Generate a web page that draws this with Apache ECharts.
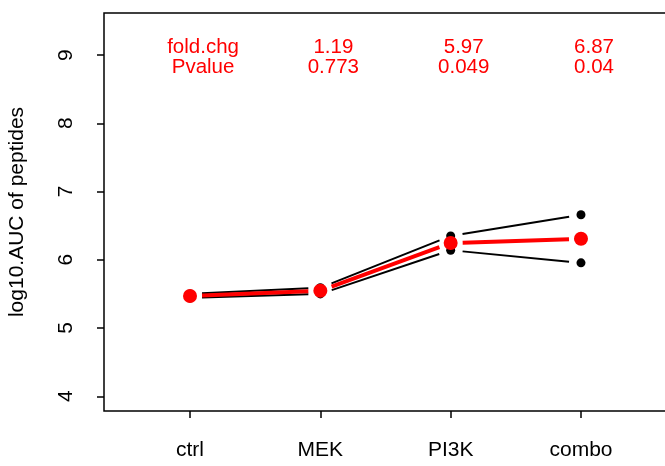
<!DOCTYPE html>
<html>
<head>
<meta charset="utf-8">
<script src="https://cdn.jsdelivr.net/npm/echarts@6/dist/echarts.min.js"></script>
<style>html,body{margin:0;padding:0;background:#fff}#c{width:665px;height:466px}</style>
</head>
<body>
<div id="c"></div>
<script>
// ---- data ----
const categories = ['ctrl', 'MEK', 'PI3K', 'combo'];
const peptideA = [5.50, 5.59, 6.35, 6.66];
const peptideB = [5.44, 5.50, 6.14, 5.955];
const meanLog = [5.47, 5.545, 6.245, 6.3075];
const rowLabels = ['fold.chg', 'Pvalue'];
const foldChange = ['1.19', '5.97', '6.87'];
const pValue = ['0.773', '0.049', '0.04'];
const yTicks = [4, 5, 6, 7, 8, 9];
const rowY = [9.11, 8.815];

const FONT = 'Liberation Sans, Arial, Helvetica, sans-serif';
const xs = categories.map((c, i) => i + 1);

function segs(vals) {
  const out = [];
  for (let i = 0; i < vals.length - 1; i++) out.push([xs[i], vals[i], xs[i + 1], vals[i + 1]]);
  return out;
}
function segSeries(vals, color, width, z) {
  return {
    type: 'custom', z: z, silent: true,
    encode: { x: [0, 2], y: [1, 3] },
    data: segs(vals),
    renderItem: function (params, api) {
      const p1 = api.coord([api.value(0), api.value(1)]);
      const p2 = api.coord([api.value(2), api.value(3)]);
      const dx = p2[0] - p1[0], dy = p2[1] - p1[1];
      const len = Math.sqrt(dx * dx + dy * dy);
      const g = 12;
      const ux = dx / len, uy = dy / len;
      return {
        type: 'line',
        shape: { x1: p1[0] + ux * g, y1: p1[1] + uy * g, x2: p2[0] - ux * g, y2: p2[1] - uy * g },
        style: { stroke: color, lineWidth: width, lineCap: 'butt' }
      };
    }
  };
}
function pts(vals, color, size, z) {
  return {
    type: 'scatter', z: z, silent: true, symbol: 'circle', symbolSize: size,
    itemStyle: { color: color, opacity: 1 },
    data: vals.map((v, i) => [xs[i], v])
  };
}
const textData = [];
rowLabels.forEach((lab, r) => textData.push({ value: [1.1, rowY[r]], label: { formatter: lab } }));
foldChange.forEach((t, i) => textData.push({ value: [i + 2.1, rowY[0]], label: { formatter: t } }));
pValue.forEach((t, i) => textData.push({ value: [i + 2.1, rowY[1]], label: { formatter: t } }));

const chart = echarts.init(document.getElementById('c'), null, { renderer: 'canvas' });
chart.setOption({
  animation: false,
  backgroundColor: '#fff',
  grid: { left: 104, top: 13, width: 563, height: 398, outerBoundsMode: 'none', containLabel: false,
          show: true, borderColor: '#000', borderWidth: 1.5, backgroundColor: 'transparent' },
  xAxis: {
    type: 'value', min: 0.34, max: 4.66,
    axisLine: { show: false },
    splitLine: { show: false },
    axisTick: { show: true, customValues: xs, length: 7, lineStyle: { color: '#000', width: 1.5 } },
    axisLabel: {
      customValues: xs, margin: 29, color: '#000', fontSize: 21, fontFamily: FONT,
      formatter: v => categories[Math.round(v) - 1]
    }
  },
  yAxis: {
    type: 'value', min: 3.784, max: 9.616,
    name: 'log10.AUC of peptides', nameLocation: 'middle', nameGap: 76, nameRotate: 90,
    nameTextStyle: { color: '#000', fontSize: 21, fontFamily: FONT },
    axisLine: { show: false },
    splitLine: { show: false },
    axisTick: { show: true, customValues: yTicks, length: 7, lineStyle: { color: '#000', width: 1.5 } },
    axisLabel: { customValues: yTicks, rotate: 90, margin: 27, color: '#000', fontSize: 21, fontFamily: FONT }
  },
  series: [
    segSeries(peptideA, '#000', 2, 2),
    segSeries(peptideB, '#000', 2, 2),
    pts(peptideA, '#000', 9, 3),
    pts(peptideB, '#000', 9, 3),
    segSeries(meanLog, '#ff0000', 4, 4),
    pts(meanLog, '#ff0000', 14, 5),
    {
      type: 'scatter', z: 6, silent: true, symbolSize: 0,
      itemStyle: { color: '#ff0000', opacity: 1 },
      label: { show: true, position: 'inside', color: '#ff0000', textBorderWidth: 0, fontSize: 20.5, fontFamily: FONT, align: 'center', verticalAlign: 'middle' },
      data: textData
    }
  ]
});
</script>
</body>
</html>
